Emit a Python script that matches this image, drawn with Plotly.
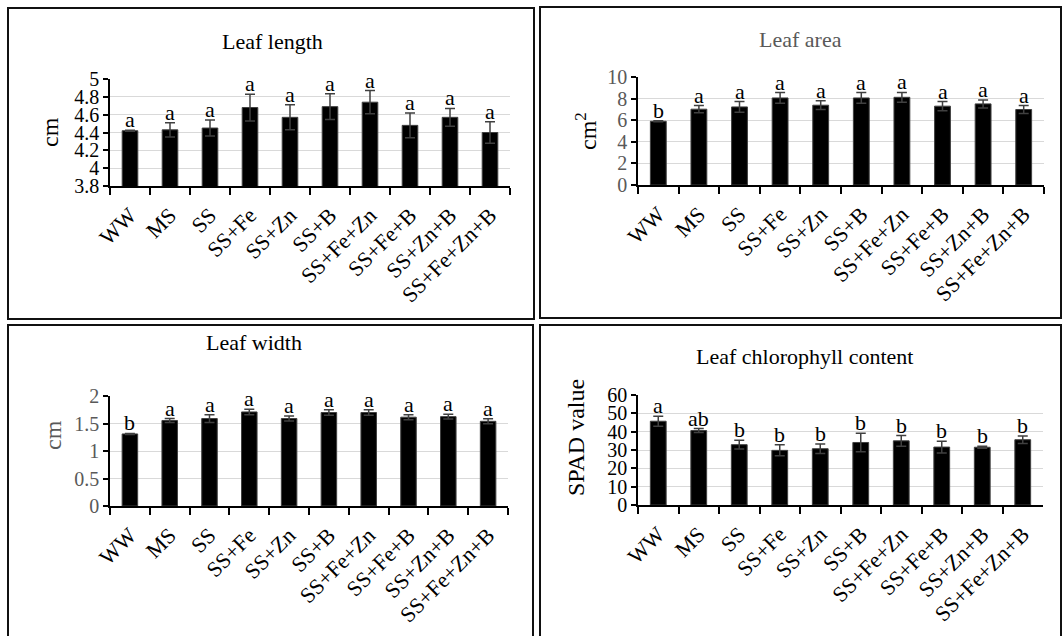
import plotly.graph_objects as go

# Treatments
treatments = ["WW", "MS", "SS", "SS+Fe", "SS+Zn", "SS+B", "SS+Fe+Zn", "SS+Fe+B", "SS+Zn+B", "SS+Fe+Zn+B"]

# Leaf length (cm)
length_mean = [4.42, 4.43, 4.45, 4.68, 4.57, 4.69, 4.74, 4.48, 4.57, 4.40]
length_err = [0.005, 0.08, 0.09, 0.15, 0.14, 0.145, 0.13, 0.14, 0.10, 0.12]
length_letters = ["a", "a", "a", "a", "a", "a", "a", "a", "a", "a"]

# Leaf area (cm2)
area_mean = [5.9, 7.02, 7.23, 8.06, 7.39, 8.06, 8.12, 7.30, 7.51, 6.99]
area_err = [0.05, 0.33, 0.5, 0.5, 0.4, 0.5, 0.45, 0.43, 0.37, 0.37]
area_letters = ["b", "a", "a", "a", "a", "a", "a", "a", "a", "a"]

# Leaf width (cm)
width_mean = [1.31, 1.555, 1.59, 1.71, 1.59, 1.70, 1.70, 1.615, 1.625, 1.54]
width_err = [0.01, 0.035, 0.07, 0.05, 0.045, 0.05, 0.05, 0.045, 0.045, 0.045]
width_letters = ["b", "a", "a", "a", "a", "a", "a", "a", "a", "a"]

# Leaf chlorophyll content (SPAD)
spad_mean = [45.7, 40.6, 32.9, 29.8, 30.7, 34.1, 35.0, 31.6, 31.5, 35.6]
spad_err = [2.7, 1.1, 2.35, 3.0, 2.6, 5.0, 2.9, 3.2, 0.5, 2.0]
spad_letters = ["a", "ab", "b", "b", "b", "b", "b", "b", "b", "b"]

W, H = 1063, 636
FONT = "Liberation Serif"
GREY = "#595959"
BLACK = "#000000"


def px_x(v):
    return v / W


def px_y(v):
    return 1 - v / H


panels = [
    dict(mean=length_mean, err=length_err, letters=length_letters, title="Leaf length",
         ytitle="cm", rng=[3.8, 5.0], dtick=0.2, dom_x=(110, 510), dom_y=(79, 186),
         title_xy=(272, 41), ytitle_xy=(50, 132), title_col=BLACK, ytitle_col=BLACK,
         ytick_col=BLACK, box=(8, 8, 534, 319)),
    dict(mean=area_mean, err=area_err, letters=area_letters, title="Leaf area",
         ytitle="cm<sup>2</sup>", rng=[0, 10], dtick=2, dom_x=(638, 1044), dom_y=(77, 185),
         title_xy=(800, 39), ytitle_xy=(586, 131), title_col=GREY, ytitle_col=BLACK,
         ytick_col=GREY, box=(540, 7, 1061, 318)),
    dict(mean=width_mean, err=width_err, letters=width_letters, title="Leaf width",
         ytitle="cm", rng=[0, 2], dtick=0.5, dom_x=(110, 508), dom_y=(396, 506),
         title_xy=(254, 342), ytitle_xy=(53, 435), title_col=BLACK, ytitle_col=GREY,
         ytick_col=GREY, box=(8, 325, 533, 645)),
    dict(mean=spad_mean, err=spad_err, letters=spad_letters, title="Leaf chlorophyll content",
         ytitle="SPAD value", rng=[0, 60], dtick=10, dom_x=(638, 1043), dom_y=(395, 505),
         title_xy=(804, 356), ytitle_xy=(576, 438), title_col=BLACK, ytitle_col=BLACK,
         ytick_col=BLACK, box=(540, 325, 1061, 645)),
]

fig = go.Figure()
annotations = []
shapes = []

for i, p in enumerate(panels, start=1):
    xa = "x" if i == 1 else f"x{i}"
    ya = "y" if i == 1 else f"y{i}"
    fig.add_trace(go.Bar(
        x=treatments, y=p["mean"], xaxis=xa, yaxis=ya,
        marker=dict(color=BLACK, line=dict(color="#404040", width=1)),
        width=0.39,
        error_y=dict(type="data", array=p["err"], visible=True,
                     color="#404040", thickness=1.5, width=5),
        showlegend=False, hoverinfo="skip",
    ))
    # significance letters above each error bar
    for t, m, e, lt in zip(treatments, p["mean"], p["err"], p["letters"]):
        annotations.append(dict(
            x=t, y=m + e, xref=xa, yref=ya, text=lt, showarrow=False,
            yanchor="bottom", yshift=-4,
            font=dict(family=FONT, size=22, color=BLACK),
        ))
    # panel title
    annotations.append(dict(
        x=px_x(p["title_xy"][0]), y=px_y(p["title_xy"][1]), xref="paper", yref="paper",
        text=p["title"], showarrow=False, xanchor="center", yanchor="middle",
        font=dict(family=FONT, size=22, color=p["title_col"]),
    ))
    # y axis title
    annotations.append(dict(
        x=px_x(p["ytitle_xy"][0]), y=px_y(p["ytitle_xy"][1]), xref="paper", yref="paper",
        text=p["ytitle"], showarrow=False, textangle=-90, xanchor="center", yanchor="middle",
        font=dict(family=FONT, size=24, color=p["ytitle_col"]),
    ))
    # panel frame
    bx0, by0, bx1, by1 = p["box"]
    shapes.append(dict(
        type="rect", xref="paper", yref="paper",
        x0=px_x(bx0), x1=px_x(bx1), y0=px_y(by1), y1=px_y(by0),
        line=dict(color="#111111", width=2), fillcolor="rgba(0,0,0,0)", layer="below",
    ))

    xkey = "xaxis" if i == 1 else f"xaxis{i}"
    ykey = "yaxis" if i == 1 else f"yaxis{i}"
    fig.update_layout(**{
        xkey: dict(
            domain=[px_x(p["dom_x"][0]), px_x(p["dom_x"][1])],
            anchor=ya, type="category", range=[-0.5, 9.5],
            showline=True, linecolor=BLACK, linewidth=1.5,
            ticks="outside", tickson="boundaries", ticklen=7, tickcolor=BLACK, tickwidth=1.5,
            tickangle=-45, ticklabelstandoff=6,
            showgrid=False, fixedrange=True, automargin=False,
            tickfont=dict(family=FONT, size=22, color=BLACK),
        ),
        ykey: dict(
            domain=[px_y(p["dom_y"][1]), px_y(p["dom_y"][0])],
            anchor=xa, range=p["rng"], dtick=p["dtick"], tick0=p["rng"][0],
            showline=True, linecolor=BLACK, linewidth=1.5,
            ticks="outside", ticklen=5, tickcolor=BLACK, tickwidth=1.5,
            showgrid=True, gridcolor="#d9d9d9", gridwidth=1, zeroline=False,
            fixedrange=True, automargin=False,
            tickfont=dict(family=FONT, size=20, color=p["ytick_col"]),
        ),
    })

fig.update_layout(
    width=W, height=H, autosize=False,
    margin=dict(l=0, r=0, t=0, b=0, pad=0, autoexpand=False),
    paper_bgcolor="white", plot_bgcolor="white",
    annotations=annotations, shapes=shapes,
    bargap=0.6,
)

# pin the figure to the window's top-left corner
page_css = (
    "document.documentElement.style.margin='0';"
    "document.documentElement.style.overflow='hidden';"
    "document.body.style.margin='0';"
    "document.body.style.overflow='hidden';"
    "var g=document.getElementsByClassName('plotly-graph-div')[0];"
    "g.style.position='fixed';g.style.left='0px';g.style.top='0px';"
)

fig.write_html("out.html", config={"displayModeBar": False}, post_script=page_css)
